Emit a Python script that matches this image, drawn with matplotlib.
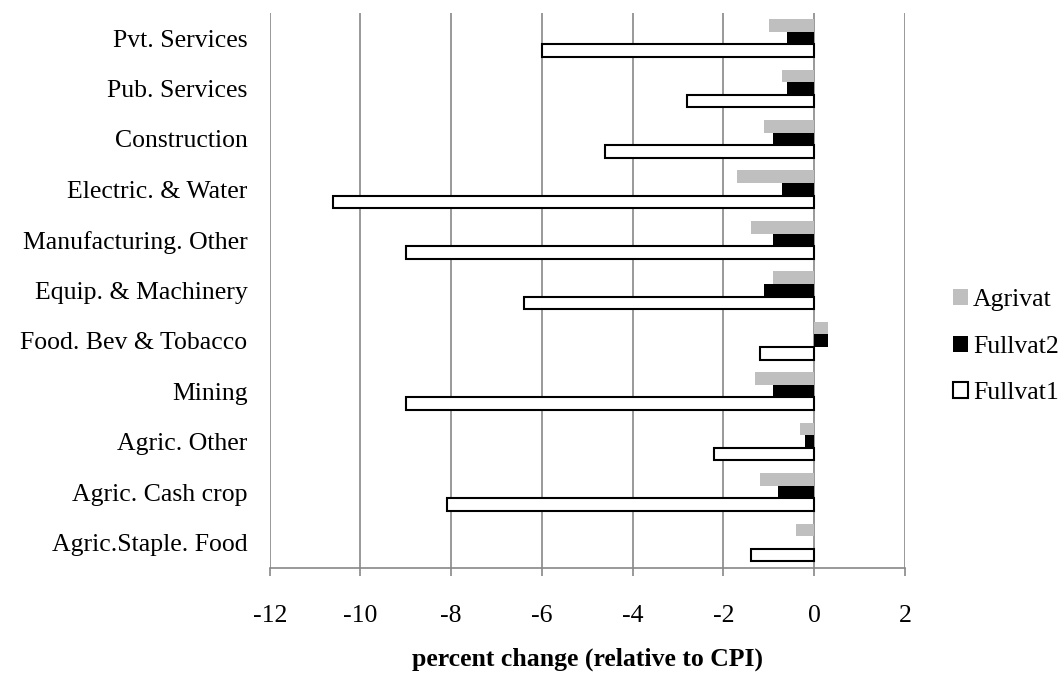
import matplotlib
matplotlib.use('Agg')
import matplotlib.pyplot as plt
import numpy as np

plt.rcParams['font.family'] = ['Liberation Serif', 'DejaVu Serif']

# sectors, bottom to top as drawn
sectors = ['Agric.Staple. Food', 'Agric. Cash crop', 'Agric. Other', 'Mining',
           'Food. Bev & Tobacco', 'Equip. & Machinery', 'Manufacturing. Other',
           'Electric. & Water', 'Construction', 'Pub. Services', 'Pvt. Services']

fullvat1 = [-1.4, -8.1, -2.2, -9.0, -1.2, -6.4, -9.0, -10.6, -4.6, -2.8, -6.0]
fullvat2 = [0.0, -0.8, -0.2, -0.9, 0.3, -1.1, -0.9, -0.7, -0.9, -0.6, -0.6]
agrivat = [-0.4, -1.2, -0.3, -1.3, 0.3, -0.9, -1.4, -1.7, -1.1, -0.7, -1.0]

xticks = [-12, -10, -8, -6, -4, -2, 0, 2]

fs = 18.5
fig = plt.figure(figsize=(10.62, 6.75), dpi=100)
ax = fig.add_axes([0.254, 0.159, 0.598, 0.822])

y = np.arange(len(sectors))
h = 0.25

ax.barh(y - h, fullvat1, height=h, color='white', edgecolor='black', linewidth=1.5,
        label='Fullvat1', zorder=3)
ax.barh(y, fullvat2, height=h, color='black', edgecolor='black', linewidth=0,
        label='Fullvat2', zorder=2)
ax.barh(y + h, agrivat, height=h, color='#bfbfbf', linewidth=0,
        label='Agrivat', zorder=2)

ax.set_xlim(-12, 2)
ax.set_ylim(-0.5, len(sectors) - 0.5)
ax.set_xticks(xticks)
ax.set_xticklabels([str(t) for t in xticks], fontsize=fs)
ax.set_yticks(y)
ax.set_yticklabels(sectors, fontsize=fs)
ax.tick_params(axis='y', length=0, pad=16)
ax.tick_params(axis='x', length=6, width=1.2, color='#878787', pad=21)

ax.grid(axis='x', color='#878787', linewidth=1.2, zorder=0)
ax.set_axisbelow(True)
for s in ['top', 'right', 'left']:
    ax.spines[s].set_visible(False)
ax.spines['bottom'].set_color('#878787')
ax.spines['bottom'].set_linewidth(1.2)

ax.set_xlabel('percent change (relative to CPI)', fontsize=fs, fontweight='bold', labelpad=15)

handles, labels = ax.get_legend_handles_labels()
ax.legend(handles[::-1], labels[::-1], loc='center left', bbox_to_anchor=(1.076, 0.398),
          frameon=False, fontsize=fs, handlelength=0.58, handleheight=0.58,
          handletextpad=0.2, labelspacing=0.95, borderpad=0, borderaxespad=0)

fig.savefig('out.png', dpi=100)
